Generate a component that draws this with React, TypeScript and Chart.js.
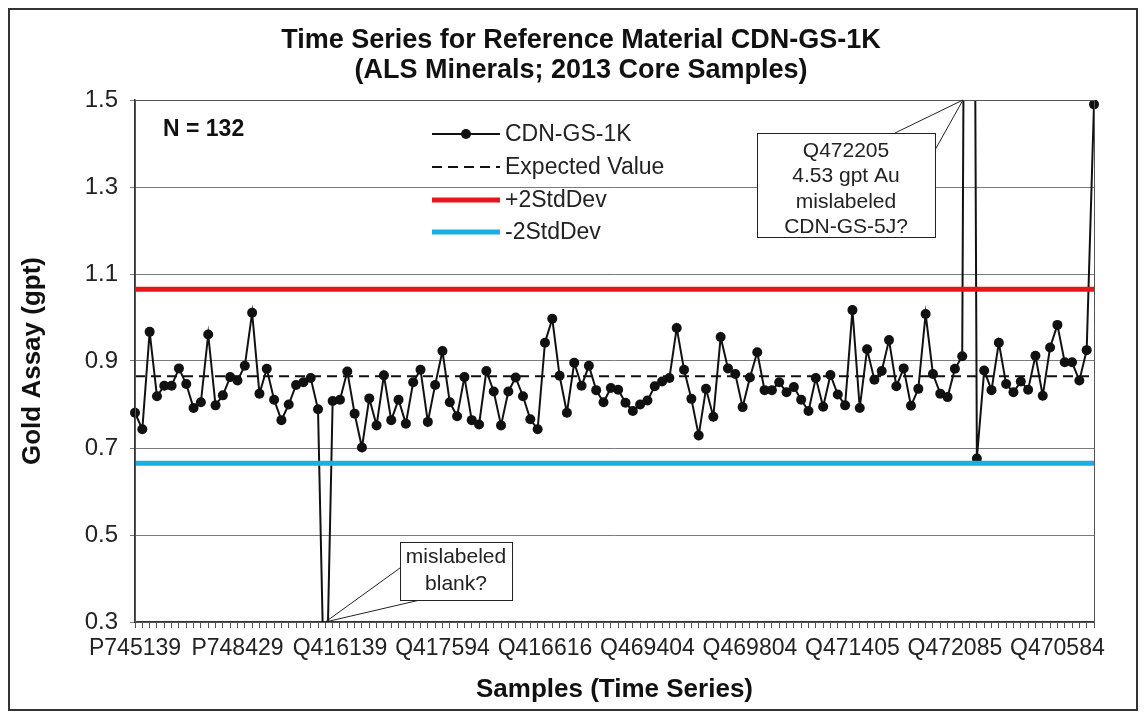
import React, { useEffect, useRef } from 'react';
import { Chart, registerables } from 'chart.js';
Chart.register(...registerables);

// ---- data ----
const sampleTickLabels = ['P745139', 'P748429', 'Q416139', 'Q417594', 'Q416616', 'Q469404', 'Q469804', 'Q471405', 'Q472085', 'Q470584'];
const tickInterval = 14;
const goldAssay = [
  0.781, 0.743, 0.967, 0.819, 0.843, 0.843, 0.883, 0.847, 0.792, 0.805,
  0.961, 0.798, 0.821, 0.863, 0.855, 0.889, 1.011, 0.825, 0.882, 0.811,
  0.764, 0.800, 0.845, 0.851, 0.861, 0.789, 0.01, 0.808, 0.811, 0.876,
  0.779, 0.701, 0.814, 0.752, 0.867, 0.764, 0.811, 0.756, 0.851, 0.880,
  0.760, 0.845, 0.923, 0.805, 0.773, 0.863, 0.764, 0.754, 0.877, 0.830,
  0.752, 0.830, 0.862, 0.819, 0.766, 0.743, 0.942, 0.997, 0.866, 0.781,
  0.896, 0.843, 0.889, 0.833, 0.805, 0.838, 0.834, 0.804, 0.785, 0.800,
  0.809, 0.842, 0.853, 0.861, 0.976, 0.880, 0.813, 0.729, 0.836, 0.772,
  0.955, 0.883, 0.870, 0.794, 0.862, 0.920, 0.833, 0.833, 0.851, 0.828,
  0.840, 0.811, 0.785, 0.861, 0.795, 0.868, 0.823, 0.798, 1.017, 0.792,
  0.927, 0.857, 0.877, 0.948, 0.842, 0.883, 0.797, 0.836, 1.008, 0.870,
  0.825, 0.817, 0.882, 0.911, 4.53, 0.676, 0.878, 0.833, 0.942, 0.847,
  0.828, 0.853, 0.834, 0.912, 0.820, 0.931, 0.983, 0.897, 0.897, 0.855,
  0.925, 1.49,
];
const expectedValue = 0.865;
const plus2StdDev = 1.065;
const minus2StdDev = 0.665;
const yTickValues = [0.3, 0.5, 0.7, 0.9, 1.1, 1.3, 1.5];
const titleLines = ['Time Series for Reference Material CDN-GS-1K', '(ALS Minerals; 2013 Core Samples)'];
const callout1Lines = ['Q472205', '4.53 gpt Au', 'mislabeled', 'CDN-GS-5J?'];
const callout2Lines = ['mislabeled', 'blank?'];
const callout1Index = 114;
const callout2Index = 26;

const FF = "'Liberation Sans', Arial, sans-serif";
const RED = '#e8141c';
const BLUE = '#1aaee2';

const overlayPlugin = {
  id: 'overlay',
  afterDraw(chart: any) {
    const ctx = chart.ctx as CanvasRenderingContext2D;
    const ca = chart.chartArea;
    const xs = chart.scales.x;
    ctx.save();
    // plot border
    ctx.strokeStyle = '#555';
    ctx.lineWidth = 1;
    ctx.strokeRect(ca.left + 0.5, ca.top + 0.5, ca.right - ca.left, ca.bottom - ca.top);

    // title
    ctx.fillStyle = '#111';
    ctx.font = `bold 27px ${FF}`;
    ctx.textAlign = 'center';
    ctx.textBaseline = 'middle';
    ctx.fillText(titleLines[0], 571, 31);
    ctx.fillText(titleLines[1], 571, 61);

    // N = 132
    ctx.font = `bold 23px ${FF}`;
    ctx.textAlign = 'left';
    ctx.fillText(`N = ${goldAssay.length}`, ca.left + 28, ca.top + 30);

    // legend
    const ds = chart.data.datasets;
    const lx0 = 422, lx1 = 490, ltx = 495;
    const rows = [124, 157, 190, 222];
    ctx.font = `23px ${FF}`;
    ds.forEach((d: any, i: number) => {
      const y = rows[i];
      ctx.save();
      ctx.strokeStyle = d.borderColor;
      ctx.lineWidth = d.borderWidth;
      ctx.setLineDash(d.borderDash || []);
      ctx.beginPath();
      ctx.moveTo(lx0, y);
      ctx.lineTo(lx1, y);
      ctx.stroke();
      ctx.restore();
      if (d.pointRadius > 0) {
        ctx.beginPath();
        ctx.fillStyle = d.pointBackgroundColor;
        ctx.arc((lx0 + lx1) / 2, y, d.pointRadius, 0, Math.PI * 2);
        ctx.fill();
      }
      ctx.fillStyle = '#222';
      ctx.fillText(d.label, ltx, y + 1);
    });

    // callout 1
    const t1x = xs.getPixelForValue(callout1Index - 0.9);
    const t1y = ca.top;
    const b1 = { l: 747, t: 123, r: 925, b: 227 };
    ctx.fillStyle = '#fff';
    ctx.strokeStyle = '#222';
    ctx.lineWidth = 1;
    ctx.beginPath();
    ctx.moveTo(885, b1.t);
    ctx.lineTo(t1x, t1y);
    ctx.lineTo(b1.r, b1.t + 17);
    ctx.stroke();
    ctx.fillRect(b1.l, b1.t, b1.r - b1.l, b1.b - b1.t);
    ctx.strokeRect(b1.l + 0.5, b1.t + 0.5, b1.r - b1.l, b1.b - b1.t);
    ctx.fillStyle = '#222';
    ctx.font = `21px ${FF}`;
    ctx.textAlign = 'center';
    callout1Lines.forEach((s, i) => ctx.fillText(s, (b1.l + b1.r) / 2, b1.t + 18 + i * 25.5));

    // callout 2
    const t2x = xs.getPixelForValue(callout2Index);
    const t2y = ca.bottom;
    const b2 = { l: 390, t: 532, r: 502, b: 590 };
    ctx.strokeStyle = '#222';
    ctx.beginPath();
    ctx.moveTo(b2.l, b2.t + 26);
    ctx.lineTo(t2x, t2y);
    ctx.lineTo(b2.l + 20, b2.b);
    ctx.stroke();
    ctx.fillStyle = '#fff';
    ctx.fillRect(b2.l, b2.t, b2.r - b2.l, b2.b - b2.t);
    ctx.strokeRect(b2.l + 0.5, b2.t + 0.5, b2.r - b2.l, b2.b - b2.t);
    ctx.fillStyle = '#222';
    callout2Lines.forEach((s, i) => ctx.fillText(s, (b2.l + b2.r) / 2, b2.t + 15 + i * 27));
    ctx.restore();
  },
};

export default function App() {
  const ref = useRef<HTMLCanvasElement | null>(null);
  useEffect(() => {
    if (!ref.current) return;
    const n = goldAssay.length;
    const pts = goldAssay.map((v, i) => ({ x: i, y: v }));
    const flat = (v: number) => [{ x: 0, y: v }, { x: n - 1, y: v }];
    const chart = new Chart(ref.current, {
      type: 'line',
      data: {
        datasets: [
          {
            label: 'CDN-GS-1K', data: pts, borderColor: '#111', borderWidth: 2,
            pointRadius: 5, pointBackgroundColor: '#111', pointBorderWidth: 0,
            clip: { left: 8, right: 8, top: 0, bottom: 0 } as any, order: 1,
          },
          {
            label: 'Expected Value', data: flat(expectedValue), borderColor: '#111', borderWidth: 2,
            borderDash: [10, 6], pointRadius: 0, order: 2,
          },
          {
            label: '+2StdDev', data: flat(plus2StdDev), borderColor: RED, borderWidth: 5, pointRadius: 0, order: 0,
          },
          {
            label: '-2StdDev', data: flat(minus2StdDev), borderColor: BLUE, borderWidth: 5, pointRadius: 0, order: 0,
          },
        ],
      },
      options: {
        animation: false,
        responsive: false,
        maintainAspectRatio: false,
        layout: { padding: { top: 90, right: 42, left: 0, bottom: 0 } },
        plugins: { legend: { display: false }, tooltip: { enabled: false }, title: { display: false } },
        scales: {
          x: {
            type: 'linear', min: 0, max: n - 1,
            afterFit: (s: any) => { s.height = 87; },
            afterBuildTicks: (s: any) => { s.ticks = goldAssay.map((_, i) => ({ value: i })); },
            ticks: {
              autoSkip: false, maxRotation: 0, minRotation: 0, padding: 7,
              color: '#222', font: { family: FF, size: 23 },
              callback: (v: any) => (v % tickInterval === 0 ? sampleTickLabels[v / tickInterval] : ''),
            },
            grid: { drawOnChartArea: false, drawTicks: true, tickLength: 6, color: '#555' },
            border: { display: true, color: '#333', width: 1.5 },
            title: { display: true, text: 'Samples (Time Series)', color: '#111', font: { family: FF, size: 26, weight: 'bold' }, padding: { top: 0, bottom: 4 } },
          },
          y: {
            type: 'linear', min: 0.3, max: 1.5,
            afterFit: (s: any) => { s.width = 125; },
            afterBuildTicks: (s: any) => { s.ticks = yTickValues.map((v) => ({ value: v })); },
            ticks: {
              padding: 12, color: '#222', font: { family: FF, size: 24 },
              callback: (v: any) => Number(v).toFixed(1),
            },
            grid: { color: '#7a7a7a', lineWidth: 1, tickLength: 5 },
            border: { display: true, color: '#333', width: 1.5 },
            title: { display: true, text: 'Gold Assay (gpt)', color: '#111', font: { family: FF, size: 26, weight: 'bold' }, padding: { top: 7, bottom: 0 } },
          },
        },
      },
      plugins: [overlayPlugin],
    });
    return () => chart.destroy();
  }, []);
  return (
    <div style={{ width: 1130, height: 703, border: '2px solid #333', boxSizing: 'border-box', background: '#fff' }}>
      <canvas ref={ref} width={1126} height={699} style={{ display: 'block' }} />
    </div>
  );
}
